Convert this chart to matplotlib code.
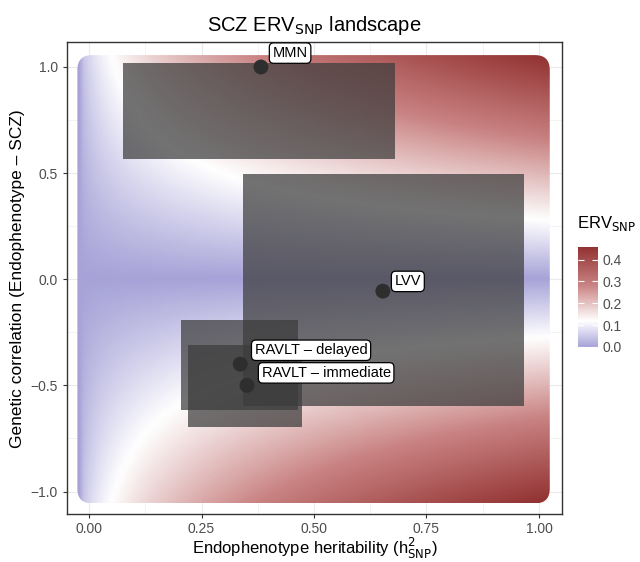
import matplotlib.pyplot as plt
from matplotlib.colors import LinearSegmentedColormap
from matplotlib.patches import Rectangle, FancyBboxPatch
import numpy as np

plt.rcParams['font.family'] = ['Liberation Sans', 'DejaVu Sans']

# endophenotypes: point estimates and CI boxes (h2 low/high, rg low/high)
names = ["MMN", "LVV", "RAVLT – delayed", "RAVLT – immediate"]
h2_est = [0.382, 0.653, 0.336, 0.351]
rg_est = [1.0, -0.056, -0.40, -0.50]
h2_lo = [0.076, 0.342, 0.204, 0.220]
h2_hi = [0.680, 0.967, 0.464, 0.473]
rg_lo = [0.565, -0.598, -0.617, -0.696]
rg_hi = [1.020, 0.495, -0.190, -0.308]
# label offsets in points (repelled labels)
lab_dx = [21, 18, 51, 57]
lab_dy = [10, 7, 10, 9]

# landscape: ERV = sqrt(h2_scz * h2_endo) * |rg|
h2_scz = 0.21
h2_grid = np.arange(0, 1.0001, 0.01)
rg_grid = np.arange(-1, 1.0001, 0.01)
H, R = np.meshgrid(h2_grid, rg_grid)
erv = np.sqrt(h2_scz * H) * np.abs(R)

cmap = LinearSegmentedColormap.from_list(
    "erv", [(0.0, "#a7a3d8"), (0.26, "#ffffff"), (0.62, "#c98282"), (1.0, "#923131")])

fig = plt.figure(figsize=(6.4, 5.62), dpi=100)
ax = fig.add_axes([0.1047, 0.085, 0.7733, 0.840])

im = ax.imshow(erv, origin="lower", extent=[-0.026, 1.024, -1.056, 1.056],
               aspect="auto", cmap=cmap, vmin=0, vmax=0.458,
               interpolation="bilinear", zorder=1)
clip = FancyBboxPatch((-0.026, -1.056), 1.05, 2.112,
                      boxstyle="round,pad=0,rounding_size=0.033",
                      mutation_aspect=2.1, transform=ax.transData,
                      facecolor="none", edgecolor="none")
ax.add_patch(clip)
im.set_clip_path(clip)

for i in range(len(names)):
    ax.add_patch(Rectangle((h2_lo[i], rg_lo[i]), h2_hi[i] - h2_lo[i], rg_hi[i] - rg_lo[i],
                           facecolor="#3c3c3c", edgecolor="none", alpha=0.72, zorder=2))

ax.scatter(h2_est, rg_est, s=115, color="#2e2e2e", edgecolor="none", zorder=3)

for i in range(len(names)):
    ax.annotate(names[i], (h2_est[i], rg_est[i]), xytext=(lab_dx[i], lab_dy[i]),
                textcoords="offset points", ha="center", va="center",
                fontsize=10.5, color="black", zorder=4,
                bbox=dict(boxstyle="round,pad=0.22,rounding_size=0.3",
                          facecolor="white", edgecolor="black", linewidth=0.9))

ax.set_xlim(-0.049, 1.051)
ax.set_ylim(-1.107, 1.117)
ax.set_xticks([0, 0.25, 0.5, 0.75, 1.0])
ax.set_xticklabels(["0.00", "0.25", "0.50", "0.75", "1.00"])
ax.set_yticks([-1.0, -0.5, 0.0, 0.5, 1.0])
ax.set_yticklabels(["−1.0", "−0.5", "0.0", "0.5", "1.0"])
ax.set_xticks([0.125, 0.375, 0.625, 0.875], minor=True)
ax.set_yticks([-0.75, -0.25, 0.25, 0.75], minor=True)
ax.set_axisbelow(True)
ax.grid(which="major", color="#ebebeb", linewidth=0.8, zorder=0)
ax.grid(which="minor", color="#ebebeb", linewidth=0.4, zorder=0)
ax.tick_params(which="major", length=3, color="#333333", labelsize=10, labelcolor="#4d4d4d")
ax.tick_params(axis="x", pad=2.5)
ax.tick_params(which="minor", length=0)
for s in ax.spines.values():
    s.set_color("#333333")
    s.set_linewidth(1.0)

ax.set_xlabel("Endophenotype heritability (h$^2_{\\mathrm{SNP}}$)", fontsize=12, labelpad=0)
ax.set_ylabel("Genetic correlation (Endophenotype – SCZ)", fontsize=12.5, labelpad=4)
ax.set_title("SCZ ERV$_{\\mathrm{SNP}}$ landscape", fontsize=14.5, pad=8)

cax = fig.add_axes([0.903, 0.3826, 0.031, 0.178])
cb = fig.colorbar(im, cax=cax, ticks=[0, 0.1, 0.2, 0.3, 0.4])
cb.outline.set_visible(False)
cb.ax.set_yticklabels(["0.0", "0.1", "0.2", "0.3", "0.4"])
cb.ax.tick_params(direction="in", length=4, color="white", width=0.8,
                  labelsize=10, labelcolor="#4d4d4d", left=True)
fig.text(0.902, 0.585, "ERV$_{\\mathrm{SNP}}$", fontsize=12, ha="left", va="bottom")

fig.savefig("out.png", dpi=100)
